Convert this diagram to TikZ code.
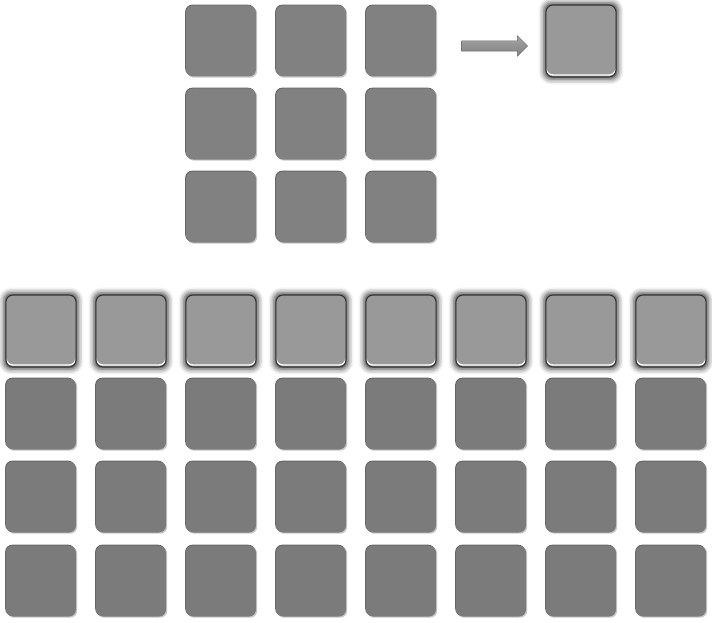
\documentclass[tikz,border=0pt]{standalone}
\usetikzlibrary{shadows,shadows.blur,shapes.arrows}
\definecolor{tilegray}{HTML}{818181}
\definecolor{tiledark}{HTML}{7B7B7B}
\definecolor{hlgray}{HTML}{999999}
\definecolor{arrowgray}{HTML}{8E8E8E}

\begin{document}
\begin{tikzpicture}[x=1pt, y=-1pt,
    tile/.style={rounded corners=7pt, inner sep=0pt, minimum width=70pt,
      minimum height=71pt, fill=tilegray,
      general shadow={fill=black!60, shadow xshift=-0.8pt, shadow yshift=0.8pt},
      general shadow={fill=black!22, shadow xshift=1.2pt, shadow yshift=-1.2pt}},
    darktile/.style={tile, fill=tiledark},
    hltile/.style={rounded corners=7pt, inner sep=0pt, minimum width=70pt,
      minimum height=72pt, fill=hlgray, draw=black!80, line width=1.1pt,
      blur shadow={shadow xshift=0pt, shadow yshift=0pt,
        shadow blur radius=5pt, shadow opacity=75, shadow scale=1.06},
      path picture={\draw[white, line width=1.3pt, rounded corners=7pt]
        ([yshift=2pt]path picture bounding box.south west) rectangle
        ([yshift=2pt]path picture bounding box.north east);}},
    flowarrow/.style={single arrow, top color=black!35, bottom color=black!50,
      draw=black!60, line width=0.4pt, minimum height=66pt,
      minimum width=20pt, inner xsep=0pt, inner ysep=5pt,
      single arrow head extend=5pt}]
  \useasboundingbox (0,0) rectangle (712,623);
  % kernel
  \foreach \r/\y in {1/41,2/124,3/207}
    \foreach \c/\x in {1/221,2/311,3/401}
      \node[tile] (k\r\c) at (\x,\y) {};
  \node[flowarrow] (arr) at (492,46) {};
  \node[hltile] (res) at (581,41) {};
  % output row
  \foreach \c/\x in {1/41,2/131,3/221,4/311,5/401,6/491,7/581,8/671}
    \node[hltile] (h\c) at (\x,331) {};
  % input rows
  \foreach \r/\y in {2/414,3/497,4/581}
    \foreach \c/\x in {1/41,2/131,3/221,4/311,5/401,6/491,7/581,8/671}
      \node[darktile] (b\r\c) at (\x,\y) {};
\end{tikzpicture}
\end{document}
